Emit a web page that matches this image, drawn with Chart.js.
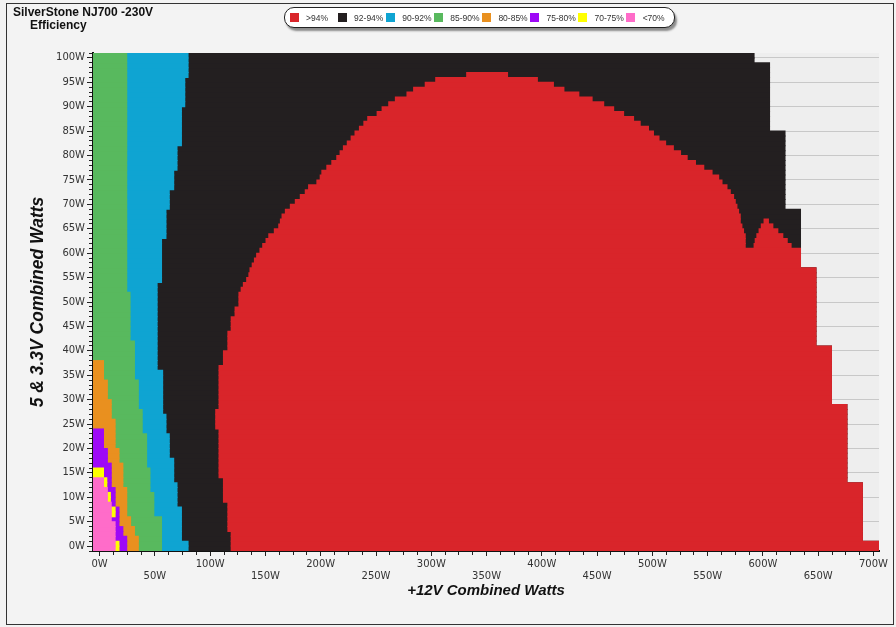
<!DOCTYPE html>
<html>
<head>
<meta charset="utf-8">
<title>SilverStone NJ700 -230V Efficiency</title>
<script src="https://cdn.jsdelivr.net/npm/chart.js@4.4.0/dist/chart.umd.min.js"></script>
<style>
  html, body { margin: 0; padding: 0; background: #f3f3f3; }
  #wrap { position: relative; width: 896px; height: 627px; overflow: hidden; }
  #chart { position: absolute; left: 0; top: 0; }
  #frame { position: absolute; left: 6px; top: 3px; width: 888px; height: 622px; box-sizing: border-box;
           border: 1px solid #333; pointer-events: none; }
  .title { position: absolute; font: bold 12px "Liberation Sans", Arial, sans-serif; color: #111; white-space: nowrap; }
  #legend { position: absolute; left: 284px; top: 7px; width: 391px; height: 21px; box-sizing: border-box;
            background: #fff; border: 1.5px solid #222; border-radius: 10px; box-shadow: 2px 3px 2px #8c8c8c;
            display: flex; align-items: center; padding-left: 4.5px; }
  .item { width: 48.1px; display: flex; align-items: center; flex: none; }
  .box { width: 9px; height: 9px; margin-right: 7.5px; flex: none; }
  .lbl { font: 8.5px "Liberation Sans", Arial, sans-serif; color: #333; white-space: nowrap; }
</style>
</head>
<body>
<div id="wrap">
  <canvas id="chart" width="896" height="627"></canvas>
  <div class="title" style="left:13px; top:5px;">SilverStone NJ700 -230V</div>
  <div class="title" style="left:30px; top:18px;">Efficiency</div>
  <div id="legend"></div>
  <div id="frame"></div>
</div>
<script>
// rows are 1 W slices of the 5V & 3.3V load, row r covers r-1 .. r W
const rowCount = 102;
const xMin = -6, xMax = 705;

const bandLabels = ['>94%', '92-94%', '90-92%', '85-90%', '80-85%', '75-80%', '70-75%', '<70%'];
const bandColors = ['#d9252a', '#231f20', '#0fa4d2', '#58b95e', '#e9901f', '#9e08f7', '#ffff00', '#ff6cc9'];

// runs of rows: [first row, last row, +12V watts where the band ends]
const dataEnd = [[0, 1, 705], [2, 13, 690], [14, 29, 676], [30, 41, 662], [42, 57, 648], [58, 69, 634], [70, 85, 620], [86, 99, 606], [100, 101, 592]];
const blueEnd = [[0, 1, 80], [2, 8, 74], [9, 13, 70], [14, 18, 67], [19, 23, 63], [24, 27, 60], [28, 36, 57], [37, 54, 52], [55, 63, 56], [64, 69, 60], [70, 73, 63], [74, 77, 67], [78, 82, 70], [83, 90, 74], [91, 96, 77], [97, 101, 80]];
const greenEnd = [[0, 6, 56], [7, 11, 49], [12, 16, 45.5], [17, 23, 42.5], [24, 28, 38.5], [29, 34, 35], [35, 42, 31.5], [43, 52, 27.5], [53, 101, 24.5]];
const orangeEnd = [[0, 2, 35], [3, 4, 31.5], [5, 6, 28], [7, 12, 24.5], [13, 17, 21], [18, 20, 17.5], [21, 26, 14], [27, 30, 10.5], [31, 34, 7], [35, 38, 3.5]];
const purpleEnd = [[0, 2, 24.5], [3, 4, 21], [5, 8, 17.5], [9, 12, 14], [13, 17, 10.5], [18, 20, 7], [21, 24, 3.5]];
const pinkEnd = [[0, 5, 14], [6, 9, 10.5], [10, 12, 7], [13, 14, 3.5]];
// [first row, last row, from W, to W]
const yellowSpots = [[0, 1, 14, 17.5], [7, 8, 10.5, 14], [10, 11, 7, 9.7], [13, 14, 3.5, 6.5], [15, 16, -6, 3.5]];

// >94% area: left edge for rows 0..97
const redStart = [
  119, 119, 119, 119, 116, 116, 116, 116, 116, 116,
  112, 112, 112, 112, 112, 108, 108, 108, 108, 108,
  108, 108, 108, 108, 108, 105, 105, 105, 105, 108,
  108, 108, 108, 108, 108, 108, 108, 108, 112, 112,
  112, 116, 116, 116, 116, 119, 119, 119, 122.5, 122.5,
  126, 126, 126, 128, 130, 133, 135, 136, 138, 140,
  142, 145, 147.5, 150.5, 153, 158, 162, 163.5, 165, 168,
  172.5, 177, 181.5, 186, 189, 196.5, 199.5, 201, 205.5, 210,
  214.5, 217.5, 220.5, 224, 227.5, 231, 235, 239, 242.5, 251,
  255.5, 261.5, 267.5, 278, 284, 294.5, 304, 332
];
// right edge of the >94% area for rows 62..97 (below that it runs to the end of the data)
const redTopFrom = 62;
const redEndTop = [
  584, 584, 584, 582.5, 581, 579.5, 579.5, 578, 576.5, 575,
  573.5, 570.5, 567.5, 563, 560, 554, 546.5, 539, 531.5, 525.5,
  519, 512, 506, 501, 496.5, 489, 483, 474, 465, 456,
  445.5, 433.5, 420, 410.5, 396, 369
];
// small >94% island near 600W: [row, from W, to W]
const redIsland = [[62, 592, 625.5], [63, 593, 622], [64, 594.5, 618], [65, 596.5, 613.5], [66, 598.5, 609], [67, 601, 605]];

const rowY = r => r - 0.5;
const runValue = (runs, r) => {
  const run = runs.find(([a, b]) => r >= a && r <= b);
  return run ? run[2] : null;
};
const fromRuns = runs => {
  const pts = [];
  runs.forEach(([a, b, end]) => {
    for (let r = a; r <= b; r++) pts.push({ x: [xMin, end], y: rowY(r) });
  });
  return pts;
};

const redPoints = redStart.map((start, r) => ({
  x: [start, r < redTopFrom ? runValue(dataEnd, r) : redEndTop[r - redTopFrom]],
  y: rowY(r)
}));
const yellowPoints = [];
yellowSpots.forEach(([a, b, from, to]) => {
  for (let r = a; r <= b; r++) yellowPoints.push({ x: [from, to], y: rowY(r) });
});
const islandPoints = redIsland.map(([r, from, to]) => ({ x: [from, to], y: rowY(r) }));

const bandData = [redPoints, fromRuns(dataEnd), fromRuns(blueEnd), fromRuns(greenEnd),
  fromRuns(orangeEnd), fromRuns(purpleEnd), yellowPoints, fromRuns(pinkEnd)];
// lower order is painted on top
const bandOrder = [7, 9, 6, 5, 4, 3, 2, 1];

const barStyle = {
  grouped: false,
  barPercentage: 1,
  categoryPercentage: 1,
  borderWidth: 0,
  inflateAmount: 0.5
};

const datasets = bandLabels.map((label, i) => ({
  label,
  data: bandData[i],
  backgroundColor: bandColors[i],
  order: bandOrder[i],
  ...barStyle
}));
datasets.push({ label: '>94% ', data: islandPoints, backgroundColor: bandColors[0], order: 7, ...barStyle });

const areaFill = {
  id: 'areaFill',
  beforeDraw(chart) {
    const { ctx, chartArea } = chart;
    ctx.save();
    ctx.fillStyle = '#eeeeee';
    ctx.fillRect(chartArea.left, chartArea.top, chartArea.right - chartArea.left, chartArea.bottom - chartArea.top);
    ctx.restore();
  }
};

const tickFont = { family: 'DejaVu Sans', size: 10 };
const titleFont = { family: 'Liberation Sans', size: 15, style: 'italic', weight: 'bold' };

const chart = new Chart(document.querySelector('#chart'), {
  type: 'bar',
  data: { datasets },
  plugins: [areaFill],
  options: {
    indexAxis: 'y',
    responsive: false,
    animation: false,
    events: [],
    layout: { padding: { left: 6, right: 17, top: 53, bottom: 0 } },
    plugins: {
      legend: { display: false },
      tooltip: { enabled: false }
    },
    scales: {
      x: {
        type: 'linear',
        min: xMin,
        max: xMax,
        border: { color: '#111', width: 2 },
        grid: {
          drawOnChartArea: false,
          tickLength: 5,
          tickColor: '#222',
          tickBorderDash: ctx => (ctx.tick && ctx.tick.value % 50 === 0) ? [] : [3, 3]
        },
        ticks: {
          stepSize: 12.5,
          includeBounds: false,
          autoSkip: false,
          maxRotation: 0,
          padding: 2,
          color: '#333',
          font: tickFont,
          callback: v => {
            if (v % 50 !== 0) return '';
            return v % 100 === 0 ? v + 'W' : ['', v + 'W'];
          }
        },
        title: { display: true, text: '+12V Combined Watts', color: '#111', font: titleFont, padding: { top: 0, bottom: 27 } },
        afterFit: s => { s.height = 76; }
      },
      y: {
        type: 'linear',
        min: -1,
        max: 101,
        offset: false,
        border: { color: '#111', width: 2 },
        grid: {
          offset: false,
          tickLength: 6,
          tickColor: '#222',
          color: ctx => (ctx.tick && ctx.tick.value % 5 === 0 && ctx.tick.value >= 0) ? '#c8c8c8' : 'rgba(0,0,0,0)',
          tickBorderDash: ctx => (ctx.tick && ctx.tick.value % 5 === 0) ? [] : [0, 2, 3]
        },
        ticks: {
          stepSize: 1,
          includeBounds: false,
          autoSkip: false,
          padding: 2,
          color: '#333',
          font: tickFont,
          callback: v => (v % 5 === 0 && v >= 0 && v <= 100) ? v + 'W' : ''
        },
        title: { display: true, text: '5 & 3.3V Combined Watts', color: '#111', font: { ...titleFont, size: 17.5 }, padding: { top: 21.5, bottom: 0 } },
        afterFit: s => { s.width = 87; }
      }
    }
  }
});

// html legend built from the chart's own datasets
const legend = document.querySelector('#legend');
chart.data.datasets.slice(0, bandLabels.length).forEach(ds => {
  const item = document.createElement('div');
  item.className = 'item';
  const box = document.createElement('span');
  box.className = 'box';
  box.style.background = ds.backgroundColor;
  const lbl = document.createElement('span');
  lbl.className = 'lbl';
  lbl.textContent = ds.label;
  item.appendChild(box);
  item.appendChild(lbl);
  legend.appendChild(item);
});
</script>
</body>
</html>
